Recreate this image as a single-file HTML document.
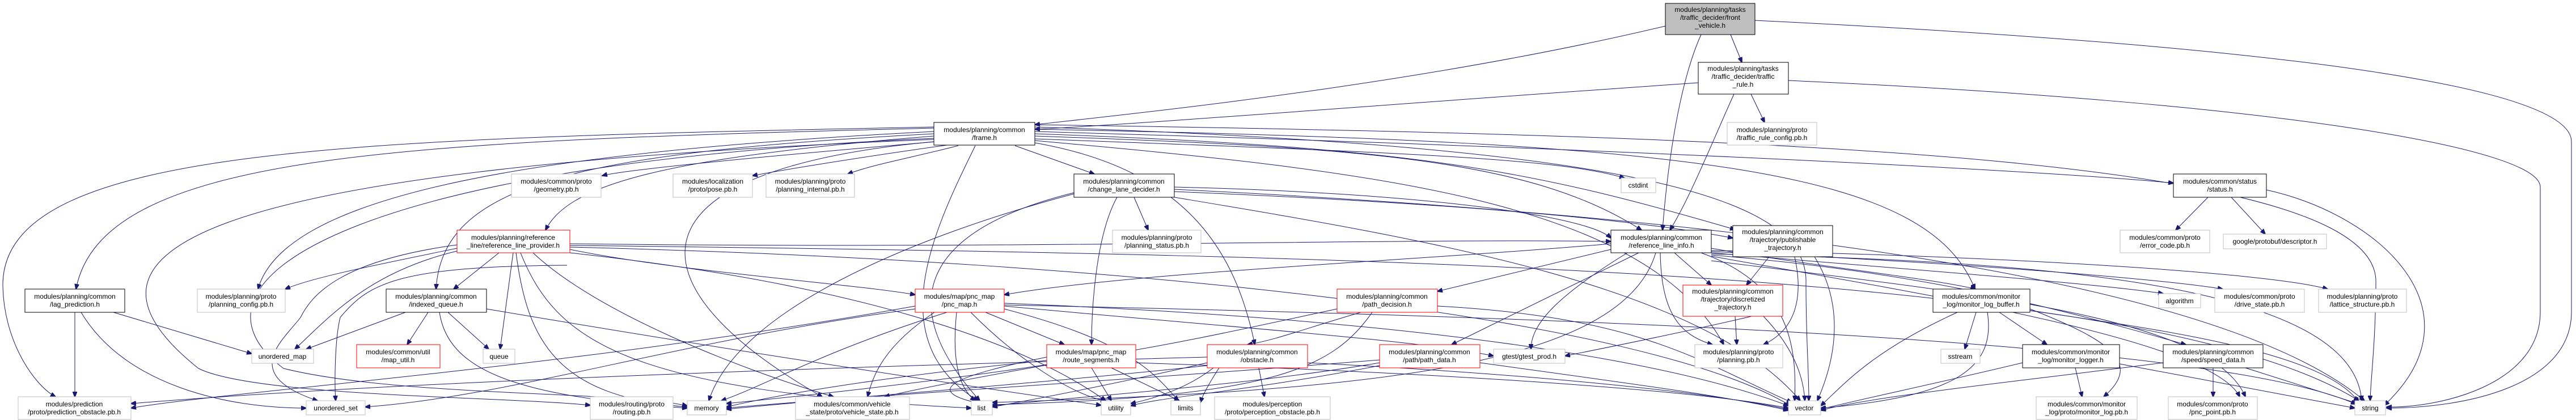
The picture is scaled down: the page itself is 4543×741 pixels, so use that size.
<!DOCTYPE html>
<html><head><meta charset="utf-8"><style>
html,body{margin:0;padding:0;background:#fff;}
svg{display:block;}
text{font-family:"Liberation Sans",sans-serif;font-size:12px;fill:#000;}
.e{fill:none;stroke:#191970;stroke-width:1;}
.g{fill:#fff;stroke:#bfbfbf;stroke-width:1;}
.b{fill:#fff;stroke:#000;stroke-width:1;}
.r{fill:#fff;stroke:#ff0000;stroke-width:1;}
</style></head><body>
<svg width="4543" height="741" viewBox="0 0 4543 741" xmlns="http://www.w3.org/2000/svg">
<defs><marker id="a" markerWidth="10" markerHeight="8" refX="9" refY="4" orient="auto" markerUnits="userSpaceOnUse"><path d="M0,0 L10,4 L0,8 z" fill="#191970" stroke="#191970"/></marker></defs>
<g class="e" marker-end="url(#a)">
<path d="M2937 46 C2500 150 2000 200 1825 220"/>
<path d="M3052 61 L3072 110"/>
<path d="M3000 61 C2960 150 2940 300 2932 406"/>
<path d="M3095 36 C4000 80 4535 150 4535 250 L4535 550 C4535 680 4350 720 4209 720"/>
<path d="M2995 146 C2500 180 2000 220 1825 228"/>
<path d="M3088 166 L3112 216"/>
<path d="M3058 166 C3020 250 2980 350 2945 406"/>
<path d="M3154 142 C4000 180 4480 260 4480 330 L4480 550 C4480 680 4300 720 4209 718"/>
<path d="M1647 226 C700 250 180 270 134 510"/>
<path d="M1647 224 C600 245 10 260 5 500 C5 600 60 680 98 700"/>
<path d="M1647 232 C900 270 500 350 455 510"/>
<path d="M1647 236 C1000 270 780 330 769 510"/>
<path d="M1647 240 C1150 280 1000 330 962 406"/>
<path d="M1650 250 C1300 280 1100 300 1062 310"/>
<path d="M1670 256 C1500 280 1380 300 1327 310"/>
<path d="M1690 257 C1600 280 1540 290 1495 307"/>
<path d="M1790 257 L1930 307"/>
<path d="M1720 257 C1650 400 1550 600 1725 707"/>
<path d="M1647 250 C1100 300 1100 500 1450 700"/>
<path d="M1647 246 C300 300 100 450 350 650 C450 700 900 700 1041 715"/>
<path d="M1647 244 C600 290 300 500 500 650 C700 700 1100 690 1212 716"/>
<path d="M1825 252 C2100 300 2180 450 2213 608"/>
<path d="M1825 245 C2500 270 2750 280 2865 314"/>
<path d="M1825 240 C2400 260 2700 280 2895 406"/>
<path d="M1825 236 C2500 260 2700 300 3060 405"/>
<path d="M1825 232 C2800 260 3600 300 3833 323"/>
<path d="M1825 228 C3000 250 3400 300 3483 510"/>
<path d="M1825 224 C2900 260 3190 350 3185 500 C3185 600 3190 650 3190 707"/>
<path d="M1825 220 C3200 240 4200 280 4190 500 C4190 600 4180 680 4180 707"/>
<path d="M1825 248 C2400 300 2900 350 3040 608"/>
<path d="M2000 348 L2025 406"/>
<path d="M1970 348 C1930 420 1925 560 1925 608"/>
<path d="M2071 330 C2500 340 2800 380 2841 420"/>
<path d="M1894 340 C1650 400 1560 520 1728 707"/>
<path d="M1894 342 C1600 420 1300 550 1250 707"/>
<path d="M2071 338 C2600 360 2900 390 3056 420"/>
<path d="M2071 348 C2500 420 3000 500 3175 707"/>
<path d="M2071 334 C3000 380 3900 480 4170 707"/>
<path d="M880 446 L800 510"/>
<path d="M806 438 C650 470 550 490 503 510"/>
<path d="M806 443 C650 480 580 560 520 616"/>
<path d="M806 432 C600 460 550 520 530 560 C500 600 420 660 560 707"/>
<path d="M905 446 L882 616"/>
<path d="M910 446 C930 600 980 700 1212 718"/>
<path d="M918 446 C980 600 1100 690 1713 720"/>
<path d="M1005 440 C1200 480 1500 500 1614 520"/>
<path d="M1005 430 C1800 440 2500 420 2841 426"/>
<path d="M940 446 C1050 550 1300 650 1470 700"/>
<path d="M1005 446 C1500 500 1800 600 1950 707"/>
<path d="M1005 436 C2000 460 2900 560 3158 716"/>
<path d="M1005 433 C2500 450 3800 480 4160 707"/>
<path d="M1000 468 C700 470 650 500 600 560 C590 600 590 680 592 707"/>
<path d="M715 551 L540 616"/>
<path d="M755 551 L718 608"/>
<path d="M790 551 L862 616"/>
<path d="M775 551 C790 650 900 700 1212 720"/>
<path d="M858 545 C1300 620 1700 680 1942 715"/>
<path d="M200 551 L444 624"/>
<path d="M132 551 L132 700"/>
<path d="M143 551 C220 680 400 720 540 720"/>
<path d="M1738 551 L1877 608"/>
<path d="M1670 551 C1450 620 1350 680 1272 707"/>
<path d="M1648 551 C1560 610 1540 660 1530 700"/>
<path d="M1687 551 C1680 620 1685 680 1720 707"/>
<path d="M1712 551 C1800 640 1900 700 1950 707"/>
<path d="M1771 545 C1980 600 2030 650 2078 707"/>
<path d="M1614 545 C1200 600 900 700 644 718"/>
<path d="M1614 540 C1000 650 400 690 231 720"/>
<path d="M1771 535 C2400 560 2900 620 3154 716"/>
<path d="M1771 540 C2200 580 2500 600 2634 628"/>
<path d="M1771 538 C2800 560 3900 600 4155 713"/>
<path d="M1925 649 L1960 707"/>
<path d="M1960 649 L2080 707"/>
<path d="M1846 630 C1700 660 1600 690 1750 716"/>
<path d="M1846 636 C1600 660 1400 690 1281 718"/>
<path d="M1846 644 C1700 670 1600 690 1560 700"/>
<path d="M2003 640 C2600 660 3000 690 3154 720"/>
<path d="M2220 649 L2230 700"/>
<path d="M2129 640 C2000 670 1850 700 1750 718"/>
<path d="M2140 649 C2100 680 2050 700 1994 712"/>
<path d="M2150 649 C2130 680 2120 700 2117 710"/>
<path d="M2129 645 C1800 680 1500 700 1281 722"/>
<path d="M2306 640 C2700 660 3000 690 3154 722"/>
<path d="M2129 630 C1000 660 500 690 231 712"/>
<path d="M2400 551 C2300 580 2250 600 2200 608"/>
<path d="M2420 551 C2350 650 2250 700 1750 714"/>
<path d="M2535 540 C2900 560 3000 640 3160 710"/>
<path d="M2358 545 C2100 600 1900 650 1281 712"/>
<path d="M2433 640 C2200 680 1900 700 1750 716"/>
<path d="M2433 645 C2200 690 2050 700 1994 716"/>
<path d="M2610 640 C2900 680 3050 700 3154 724"/>
<path d="M2433 635 C2000 670 1500 700 1281 720"/>
<path d="M2841 440 L2535 514"/>
<path d="M2890 446 L2560 608"/>
<path d="M2953 446 L3018 503"/>
<path d="M2928 446 C2930 550 2960 590 3020 608"/>
<path d="M2841 430 C2500 460 2000 480 1771 520"/>
<path d="M2920 446 C2860 650 2400 690 1750 710"/>
<path d="M3000 446 C3150 500 3170 600 3165 707"/>
<path d="M3018 446 C3300 470 3700 500 3815 518"/>
<path d="M3018 444 C3400 460 3800 490 3920 510"/>
<path d="M3018 442 C3500 450 4000 480 4105 510"/>
<path d="M3018 448 C3600 460 4150 500 4165 707"/>
<path d="M3018 450 C3400 480 3650 550 3855 608"/>
<path d="M3018 452 C3400 520 3900 600 3950 700"/>
<path d="M3018 438 C3200 470 3400 490 3484 510"/>
<path d="M2870 446 C2750 520 2700 570 2700 616"/>
<path d="M3120 453 L3080 503"/>
<path d="M3165 453 C3180 520 3170 580 3110 608"/>
<path d="M3200 453 C3260 550 3230 650 3205 707"/>
<path d="M3060 558 L3063 608"/>
<path d="M3110 558 C3150 600 3180 650 3183 707"/>
<path d="M3144 545 C3000 580 2850 610 2760 628"/>
<path d="M3894 348 L3837 406"/>
<path d="M3935 348 L3995 413"/>
<path d="M3997 335 C4200 380 4380 550 4205 715"/>
<path d="M3485 551 L3465 616"/>
<path d="M3526 551 L3610 608"/>
<path d="M3580 545 C3720 600 3780 640 3710 700"/>
<path d="M3580 548 C3800 580 4100 620 4160 710"/>
<path d="M3452 551 C3300 620 3250 680 3211 716"/>
<path d="M3505 551 C3520 650 3450 700 3211 720"/>
<path d="M3660 649 L3672 700"/>
<path d="M3738 642 L4153 720"/>
<path d="M3567 640 C3400 680 3300 700 3211 722"/>
<path d="M3903 649 L3903 700"/>
<path d="M3960 649 L4158 712"/>
<path d="M3815 640 C3500 680 3300 700 3211 724"/>
<path d="M3018 460 C3500 520 3900 560 3960 700"/>
</g>

<rect x="2937" y="6" width="158" height="55" fill="#bfbfbf" stroke="#000"/>
<text x="3016" y="21" text-anchor="middle">modules/planning/tasks</text>
<text x="3016" y="35" text-anchor="middle">/traffic_decider/front</text>
<text x="3016" y="49" text-anchor="middle">_vehicle.h</text>

<rect class="b" x="2995" y="110" width="159" height="56"/>
<text x="3074" y="125" text-anchor="middle">modules/planning/tasks</text>
<text x="3074" y="139" text-anchor="middle">/traffic_decider/traffic</text>
<text x="3074" y="153" text-anchor="middle">_rule.h</text>

<g text-anchor="middle">
<rect class="g" x="3046" y="216" width="158" height="40"/><text x="3125" y="233">modules/planning/proto</text><text x="3125" y="247">/traffic_rule_config.pb.h</text>
<rect class="b" x="1647" y="216" width="178" height="40"/><text x="1736" y="233">modules/planning/common</text><text x="1736" y="247">/frame.h</text>
<rect class="g" x="902" y="307" width="158" height="41"/><text x="981" y="324">modules/common/proto</text><text x="981" y="338">/geometry.pb.h</text>
<rect class="g" x="1187" y="307" width="140" height="41"/><text x="1257" y="324">modules/localization</text><text x="1257" y="338">/proto/pose.pb.h</text>
<rect class="g" x="1351" y="307" width="156" height="41"/><text x="1429" y="324">modules/planning/proto</text><text x="1429" y="338">/planning_internal.pb.h</text>
<rect class="b" x="1894" y="307" width="177" height="41"/><text x="1982" y="324">modules/planning/common</text><text x="1982" y="338">/change_lane_decider.h</text>
<rect class="g" x="2859" y="314" width="61" height="26"/><text x="2889" y="331">cstdint</text>
<rect class="b" x="3833" y="307" width="164" height="41"/><text x="3915" y="324">modules/common/status</text><text x="3915" y="338">/status.h</text>
<rect class="r" x="806" y="406" width="199" height="40"/><text x="905" y="423">modules/planning/reference</text><text x="905" y="437">_line/reference_line_provider.h</text>
<rect class="g" x="1962" y="406" width="156" height="40"/><text x="2040" y="423">modules/planning/proto</text><text x="2040" y="437">/planning_status.pb.h</text>
<rect class="b" x="2841" y="406" width="177" height="40"/><text x="2930" y="423">modules/planning/common</text><text x="2930" y="437">/reference_line_info.h</text>
<rect class="b" x="3056" y="398" width="176" height="55"/><text x="3144" y="413">modules/planning/common</text><text x="3144" y="427">/trajectory/publishable</text><text x="3144" y="441">_trajectory.h</text>
<rect class="g" x="3739" y="406" width="158" height="40"/><text x="3818" y="423">modules/common/proto</text><text x="3818" y="437">/error_code.pb.h</text>
<rect class="g" x="3921" y="413" width="182" height="26"/><text x="4012" y="430">google/protobuf/descriptor.h</text>
<rect class="b" x="44" y="510" width="176" height="41"/><text x="132" y="527">modules/planning/common</text><text x="132" y="541">/lag_prediction.h</text>
<rect class="g" x="348" y="510" width="155" height="41"/><text x="425" y="527">modules/planning/proto</text><text x="425" y="541">/planning_config.pb.h</text>
<rect class="b" x="681" y="510" width="177" height="41"/><text x="769" y="527">modules/planning/common</text><text x="769" y="541">/indexed_queue.h</text>
<rect class="r" x="1614" y="510" width="157" height="41"/><text x="1692" y="527">modules/map/pnc_map</text><text x="1692" y="541">/pnc_map.h</text>
<rect class="r" x="2358" y="510" width="177" height="41"/><text x="2446" y="527">modules/planning/common</text><text x="2446" y="541">/path_decision.h</text>
<rect class="r" x="2968" y="503" width="176" height="55"/><text x="3056" y="518">modules/planning/common</text><text x="3056" y="532">/trajectory/discretized</text><text x="3056" y="546">_trajectory.h</text>
<rect class="b" x="3409" y="510" width="171" height="41"/><text x="3494" y="527">modules/common/monitor</text><text x="3494" y="541">_log/monitor_log_buffer.h</text>
<rect class="g" x="3807" y="518" width="74" height="25"/><text x="3844" y="535">algorithm</text>
<rect class="g" x="3906" y="510" width="158" height="41"/><text x="3985" y="527">modules/common/proto</text><text x="3985" y="541">/drive_state.pb.h</text>
<rect class="g" x="4089" y="510" width="155" height="41"/><text x="4166" y="527">modules/planning/proto</text><text x="4166" y="541">/lattice_structure.pb.h</text>
<rect class="g" x="444" y="616" width="109" height="25"/><text x="498" y="633">unordered_map</text>
<rect class="r" x="629" y="608" width="147" height="41"/><text x="702" y="625">modules/common/util</text><text x="702" y="639">/map_util.h</text>
<rect class="g" x="852" y="616" width="56" height="25"/><text x="880" y="633">queue</text>
<rect class="r" x="1846" y="608" width="157" height="41"/><text x="1924" y="625">modules/map/pnc_map</text><text x="1924" y="639">/route_segments.h</text>
<rect class="r" x="2129" y="608" width="177" height="41"/><text x="2217" y="625">modules/planning/common</text><text x="2217" y="639">/obstacle.h</text>
<rect class="r" x="2433" y="608" width="177" height="41"/><text x="2521" y="625">modules/planning/common</text><text x="2521" y="639">/path/path_data.h</text>
<rect class="g" x="2634" y="616" width="126" height="25"/><text x="2697" y="633">gtest/gtest_prod.h</text>
<rect class="g" x="2989" y="608" width="155" height="41"/><text x="3066" y="625">modules/planning/proto</text><text x="3066" y="639">/planning.pb.h</text>
<rect class="g" x="3423" y="616" width="69" height="25"/><text x="3457" y="633">sstream</text>
<rect class="b" x="3567" y="608" width="171" height="41"/><text x="3652" y="625">modules/common/monitor</text><text x="3652" y="639">_log/monitor_logger.h</text>
<rect class="b" x="3815" y="608" width="176" height="41"/><text x="3903" y="625">modules/planning/common</text><text x="3903" y="639">/speed/speed_data.h</text>
<rect class="g" x="32" y="700" width="199" height="40"/><text x="131" y="717">modules/prediction</text><text x="131" y="731">/proto/prediction_obstacle.pb.h</text>
<rect class="g" x="540" y="707" width="104" height="25"/><text x="592" y="724">unordered_set</text>
<rect class="g" x="1041" y="700" width="146" height="40"/><text x="1114" y="717">modules/routing/proto</text><text x="1114" y="731">/routing.pb.h</text>
<rect class="g" x="1212" y="707" width="69" height="25"/><text x="1246" y="724">memory</text>
<rect class="g" x="1403" y="700" width="201" height="40"/><text x="1503" y="717">modules/common/vehicle</text><text x="1503" y="731">_state/proto/vehicle_state.pb.h</text>
<rect class="g" x="1713" y="707" width="37" height="25"/><text x="1731" y="724">list</text>
<rect class="g" x="1942" y="707" width="52" height="25"/><text x="1968" y="724">utility</text>
<rect class="g" x="2065" y="707" width="52" height="25"/><text x="2091" y="724">limits</text>
<rect class="g" x="2142" y="700" width="204" height="40"/><text x="2244" y="717">modules/perception</text><text x="2244" y="731">/proto/perception_obstacle.pb.h</text>
<rect class="g" x="3154" y="707" width="57" height="25"/><text x="3182" y="724">vector</text>
<rect class="g" x="3591" y="700" width="178" height="40"/><text x="3680" y="717">modules/common/monitor</text><text x="3680" y="731">_log/proto/monitor_log.pb.h</text>
<rect class="g" x="3824" y="700" width="157" height="40"/><text x="3902" y="717">modules/common/proto</text><text x="3902" y="731">/pnc_point.pb.h</text>
<rect class="g" x="4153" y="707" width="54" height="25"/><text x="4180" y="724">string</text>
</g>
</svg>
</body></html>
